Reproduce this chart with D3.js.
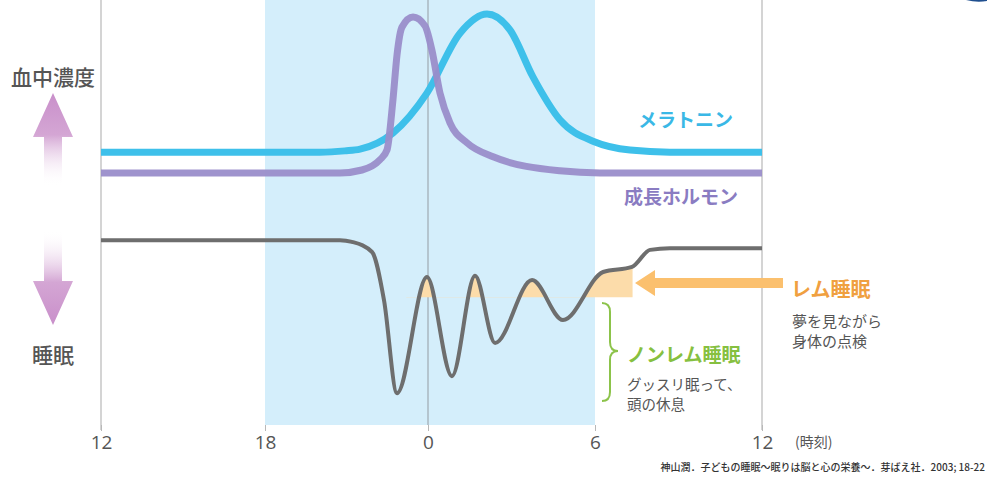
<!DOCTYPE html>
<html>
<head>
<meta charset="utf-8">
<script src="https://cdn.jsdelivr.net/npm/d3@7"></script>
<style>
  body { margin: 0; background: #fff; }
  svg { display: block; font-family: "Noto Sans CJK JP", "Noto Sans", sans-serif; }
</style>
</head>
<body>
<div id="chart"></div>
<script>
// hours counted from 12:00 noon, level 0-100 (relative)
const tickHours = [0, 6, 12, 18, 24];
const tickLabels = ["12", "18", "0", "6", "12"];
const nightBand = [6, 18];

const melatoninHours = [0, 8.02, 8.94, 9.50, 10.71, 11.96, 13.15, 14.12, 14.95, 15.77, 16.74, 18.0, 19.26, 20.69, 24];
const melatoninLevel = [64.2, 64.2, 64.5, 64.9, 68.7, 78.1, 92.2, 96.7, 92.9, 81.9, 71.8, 66.6, 64.7, 64.2, 64.2];

const ghHours = [0, 8.76, 9.57, 10.23, 10.49, 10.71, 10.86, 11.04, 11.45, 11.89, 12.14, 12.43, 12.79, 13.40, 14.34, 16.74, 18.18, 24];
const ghLevel = [59.3, 59.3, 60.0, 62.4, 64.7, 76.5, 87.1, 93.6, 96.0, 93.9, 88.2, 78.1, 71.1, 66.4, 63.1, 59.8, 59.3, 59.3];

const sleepHours = [0, 8.76, 9.20, 9.94, 10.38, 10.86, 11.96, 12.86, 13.69, 14.41, 15.74, 16.85, 18.29, 19.33, 19.98, 20.69, 24];
const sleepLevel = [43.5, 43.5, 43.1, 40.7, 29.4, 7.5, 34.8, 11.5, 35.1, 19.3, 34.1, 24.7, 36.0, 37.2, 41.2, 41.6, 41.6];

const remLevel = 30;
const remHours = [11.2, 19.35];

const width = 987, height = 481;

const x = d3.scaleLinear().domain(tickHours).range([101, 265, 428, 595, 762]);
const y = d3.scaleLinear().domain([0, 100]).range([425, 0]);

const svg = d3.select("#chart").append("svg")
    .attr("width", width).attr("height", height);

const defs = svg.append("defs");

// night band
svg.append("rect")
    .attr("x", x(nightBand[0])).attr("y", 0)
    .attr("width", x(nightBand[1]) - x(nightBand[0]))
    .attr("height", y(0))
    .attr("fill", "#d4eefb");

// vertical guide lines
svg.selectAll("line.guide")
    .data([0, 24])
    .join("line")
    .attr("class", "guide")
    .attr("x1", d => x(d)).attr("x2", d => x(d))
    .attr("y1", 0).attr("y2", 430)
    .attr("stroke", "#c6c6c6").attr("stroke-width", 1.5);

svg.append("line")
    .attr("x1", x(12)).attr("x2", x(12))
    .attr("y1", 0).attr("y2", y(0))
    .attr("stroke", "#9eaab2").attr("stroke-width", 1.2);

// x axis
const xAxis = d3.axisBottom(x)
    .tickValues(tickHours)
    .tickFormat((d, i) => tickLabels[i])
    .tickSize(6)
    .tickPadding(5);

const ax = svg.append("g")
    .attr("transform", `translate(0,${y(0)})`)
    .call(xAxis);
ax.select(".domain").remove();
ax.selectAll(".tick line").attr("stroke", "#b8b8b8");
ax.selectAll(".tick text")
    .attr("fill", "#555")
    .attr("font-size", 19)
    .attr("font-family", "'Open Sans', 'Noto Sans', sans-serif");

svg.append("text")
    .attr("x", 795).attr("y", 447)
    .attr("font-size", 14).attr("fill", "#555")
    .text("(時刻)");

// REM shading (curve above the rem level)
defs.append("clipPath").attr("id", "rem-clip")
    .append("rect")
    .attr("x", x(remHours[0])).attr("y", 0)
    .attr("width", x(remHours[1]) - x(remHours[0]))
    .attr("height", y(remLevel));

const sleepData = sleepHours.map((h, i) => ({ h: h, v: sleepLevel[i] }));
const melatoninData = melatoninHours.map((h, i) => ({ h: h, v: melatoninLevel[i] }));
const ghData = ghHours.map((h, i) => ({ h: h, v: ghLevel[i] }));

const curve = d3.curveMonotoneX;

svg.append("path")
    .datum(sleepData)
    .attr("fill", "#fcdcaa")
    .attr("clip-path", "url(#rem-clip)")
    .attr("d", d3.area()
        .x(d => x(d.h))
        .y0(y(remLevel))
        .y1(d => y(d.v))
        .curve(curve));

const line = d3.line()
    .x(d => x(d.h))
    .y(d => y(d.v))
    .curve(curve);

svg.append("path")
    .datum(sleepData)
    .attr("fill", "none")
    .attr("stroke", "#6e6e6e")
    .attr("stroke-width", 4)
    .attr("d", line);

svg.append("path")
    .datum(melatoninData)
    .attr("fill", "none")
    .attr("stroke", "#3ec0ea")
    .attr("stroke-width", 7)
    .attr("d", line);

svg.append("path")
    .datum(ghData)
    .attr("fill", "none")
    .attr("stroke", "#9a8dca")
    .attr("stroke-width", 7)
    .attr("stroke-opacity", 0.95)
    .attr("d", line);

// curve labels
svg.append("text")
    .attr("x", 638).attr("y", 127)
    .attr("font-size", 19).attr("font-weight", "bold").attr("fill", "#3ab8e6")
    .text("メラトニン");

svg.append("text")
    .attr("x", 624).attr("y", 204)
    .attr("font-size", 19).attr("font-weight", "bold").attr("fill", "#8a7cc2")
    .text("成長ホルモン");

// REM arrow
svg.append("path")
    .attr("d", "M635,283 L655,270 L655,278 L783,278 L783,288 L655,288 L655,296 Z")
    .attr("fill", "#fbc06e");

svg.append("text")
    .attr("x", 791).attr("y", 297)
    .attr("font-size", 20).attr("font-weight", "bold").attr("fill", "#f0a040")
    .text("レム睡眠");

svg.selectAll("text.rem-note")
    .data(["夢を見ながら", "身体の点検"])
    .join("text")
    .attr("class", "rem-note")
    .attr("x", 792).attr("y", (d, i) => 327 + i * 20)
    .attr("font-size", 15).attr("fill", "#555")
    .text(d => d);

// non-REM brace
svg.append("path")
    .attr("d", "M602,303 Q610,303 610,312 L610,342 Q610,351 618,351 Q610,351 610,360 L610,392 Q610,401 602,401")
    .attr("fill", "none")
    .attr("stroke", "#8cc34a")
    .attr("stroke-width", 2);

svg.append("text")
    .attr("x", 627).attr("y", 362)
    .attr("font-size", 19).attr("font-weight", "bold").attr("fill", "#86c040")
    .text("ノンレム睡眠");

svg.selectAll("text.nrem-note")
    .data(["グッスリ眠って、", "頭の休息"])
    .join("text")
    .attr("class", "nrem-note")
    .attr("x", 627).attr("y", (d, i) => 390 + i * 20)
    .attr("font-size", 14.5).attr("fill", "#555")
    .text(d => d);

// left side labels and arrows
svg.append("text")
    .attr("x", 53).attr("y", 85)
    .attr("text-anchor", "middle")
    .attr("font-size", 21).attr("font-weight", 500).attr("fill", "#555")
    .text("血中濃度");

svg.append("text")
    .attr("x", 53).attr("y", 363)
    .attr("text-anchor", "middle")
    .attr("font-size", 21).attr("font-weight", 500).attr("fill", "#555")
    .text("睡眠");

const gUp = defs.append("linearGradient").attr("id", "grad-up")
    .attr("x1", 0).attr("y1", 0).attr("x2", 0).attr("y2", 1);
gUp.append("stop").attr("offset", "0%").attr("stop-color", "#c98fca");
gUp.append("stop").attr("offset", "45%").attr("stop-color", "#d4a6d4");
gUp.append("stop").attr("offset", "100%").attr("stop-color", "#fff").attr("stop-opacity", 0);

const gDown = defs.append("linearGradient").attr("id", "grad-down")
    .attr("x1", 0).attr("y1", 1).attr("x2", 0).attr("y2", 0);
gDown.append("stop").attr("offset", "0%").attr("stop-color", "#c98fca");
gDown.append("stop").attr("offset", "45%").attr("stop-color", "#d4a6d4");
gDown.append("stop").attr("offset", "100%").attr("stop-color", "#fff").attr("stop-opacity", 0);

svg.append("path")
    .attr("d", "M53,93 L73,137 L62,137 L62,186 L44,186 L44,137 L33,137 Z")
    .attr("fill", "url(#grad-up)");

svg.append("path")
    .attr("d", "M44,230 L62,230 L62,281 L73,281 L53,325 L33,281 L44,281 Z")
    .attr("fill", "url(#grad-down)");

// citation
svg.append("text")
    .attr("x", 985).attr("y", 471)
    .attr("text-anchor", "end")
    .attr("font-size", 10).attr("font-weight", 500).attr("fill", "#333")
    .text("神山潤．子どもの睡眠〜眠りは脳と心の栄養〜．芽ばえ社．2003; 18-22");

// corner mark
svg.append("path")
    .attr("d", "M966,0 Q977,3 987,1 L987,0 Z")
    .attr("fill", "#1f4f8f");
</script>
</body>
</html>
